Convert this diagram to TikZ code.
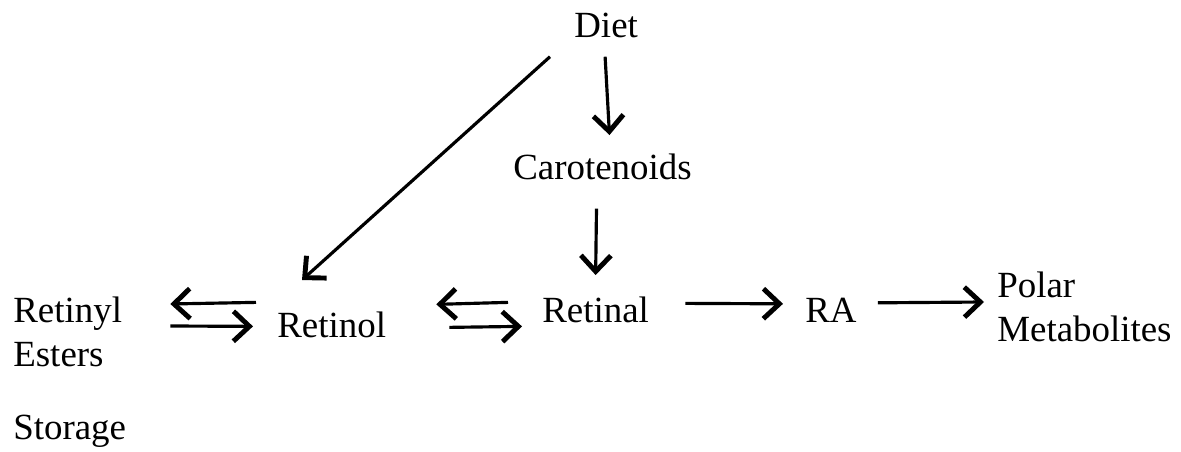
\documentclass[tikz,border=0pt]{standalone}
\usepackage{fontspec}
\setmainfont{Liberation Serif}
\usetikzlibrary{arrows.meta,calc}
\begin{document}
\begin{tikzpicture}[x=0.02cm,y=-0.02cm,
  lbl/.style={inner sep=0,font=\fontsize{21}{25}\selectfont},
  arr/.style={line width=1.8pt,-{Straight Barb[length=3.2mm,width=6mm,line width=2.8pt]}}]
  \useasboundingbox (0,0) rectangle (1181,452) ;
  \node[lbl,anchor=base west] (diet) at (574,38) {Diet} ;
  \node[lbl,anchor=base west] (carot) at (513,180) {Carotenoids} ;
  \node[lbl,anchor=north west,align=left] (retinyl) at (13,297) {Retinyl\\Esters} ;
  \node[lbl,anchor=base west] (storage) at (13,440) {Storage} ;
  \node[lbl,anchor=base west] (retinol) at (277,338) {Retinol} ;
  \node[lbl,anchor=base west] (retinal) at (542,323) {Retinal} ;
  \node[lbl,anchor=base west] (ra) at (805,323) {RA} ;
  \node[lbl,anchor=north west,align=left] (polar) at (997,272) {Polar\\Metabolites} ;

  \draw[arr] ($(diet.south)+(-1,18)$) -- ($(carot.north)+(7,-19)$) ;
  \draw[arr] ($(diet.south west)+(-24,18)$) -- ($(retinol.north west)+(25,-32)$) ;
  \draw[arr] ($(carot.south)+(-6,28)$) -- ($(retinal.north)+(0,-22)$) ;

  \draw[arr] ($(retinol.west)+(-21,-23)$) -- ($(retinyl.north east)+(48,7)$) ;
  \draw[arr] ($(retinyl.north east)+(48,29)$) -- ($(retinol.west)+(-24,1)$) ;
  \draw[arr] ($(retinal.west)+(-34,-8)$) -- ($(retinol.east)+(50,-21)$) ;
  \draw[arr] ($(retinol.east)+(63,2)$) -- ($(retinal.west)+(-20,16)$) ;
  \draw[arr] ($(retinal.east)+(36,-7)$) -- ($(ra.west)+(-22,-7)$) ;
  \draw[arr] ($(ra.east)+(21,-8)$) -- ($(polar.north west)+(-13,30)$) ;
\end{tikzpicture}
\end{document}
